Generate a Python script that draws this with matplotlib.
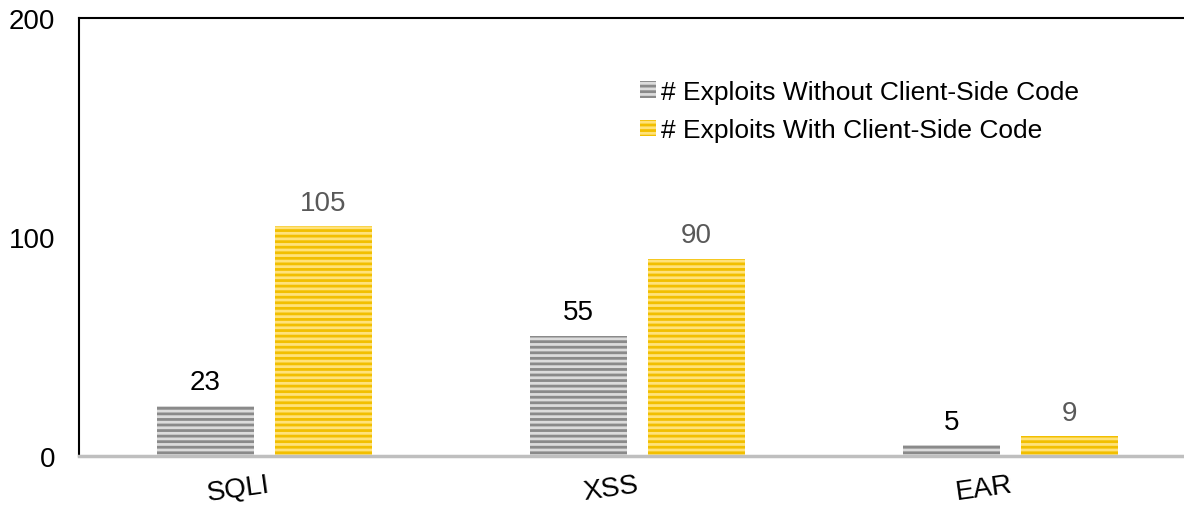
import matplotlib
matplotlib.use("Agg")
import matplotlib.pyplot as plt
import numpy as np

categories = ["SQLI", "XSS", "EAR"]
without_client = [23, 55, 5]
with_client = [105, 90, 9]
series_names = ["# Exploits Without Client-Side Code", "# Exploits With Client-Side Code"]
yticks = [0, 100, 200]

plt.rcParams['font.family'] = ['Liberation Sans', 'DejaVu Sans']
plt.rcParams['hatch.linewidth'] = 2.0

fig = plt.figure(figsize=(11.84, 5.06), dpi=100)
ax = fig.add_axes([79/1184, 1-457/506, 1-79/1184, (457-19)/506])

x = np.arange(len(categories))
w = 0.26
off = 0.158
b1 = ax.bar(x - off, without_client, w, color="#dcdcdc", edgecolor="#8a8a8a",
            linewidth=0, hatch="---", label=series_names[0], zorder=2)
b2 = ax.bar(x + off, with_client, w, color="#ffe27a", edgecolor="#f2bf00",
            linewidth=0, hatch="---", label=series_names[1], zorder=2)

FS = 20
for rect, v in zip(b1, without_client):
    ax.annotate(str(v), (rect.get_x() + rect.get_width()/2, v), xytext=(0, 7.5),
                textcoords="offset points", ha="center", va="bottom",
                fontsize=FS, color="black")
for rect, v in zip(b2, with_client):
    ax.annotate(str(v), (rect.get_x() + rect.get_width()/2, v), xytext=(0, 7.5),
                textcoords="offset points", ha="center", va="bottom",
                fontsize=FS, color="#595959")

ax.set_xlim(-0.497, 2.465)
ax.set_ylim(0, 200)
ax.set_yticks(yticks)
ax.set_yticklabels([str(t) for t in yticks], fontsize=FS)
ax.tick_params(axis='y', length=0, pad=17)
ax.set_xticks(x - 0.07)
ax.set_xticklabels(categories, fontsize=FS, rotation=8, ha="center")
ax.tick_params(axis='x', length=0, pad=11)

ax.spines['right'].set_visible(False)
ax.spines['left'].set_linewidth(1.5)
ax.spines['top'].set_linewidth(1.5)
ax.spines['bottom'].set_color("#bfbfbf")
ax.spines['bottom'].set_linewidth(2.5)
ax.spines['bottom'].set_zorder(3)

leg = ax.legend(loc="upper left", bbox_to_anchor=(0.5314, 0.861),
                bbox_transform=fig.transFigure, frameon=False, fontsize=19,
                handlelength=0.6, handleheight=0.6, handletextpad=0.2,
                labelspacing=0.55, borderaxespad=0)

fig.savefig("out.png", dpi=100)
